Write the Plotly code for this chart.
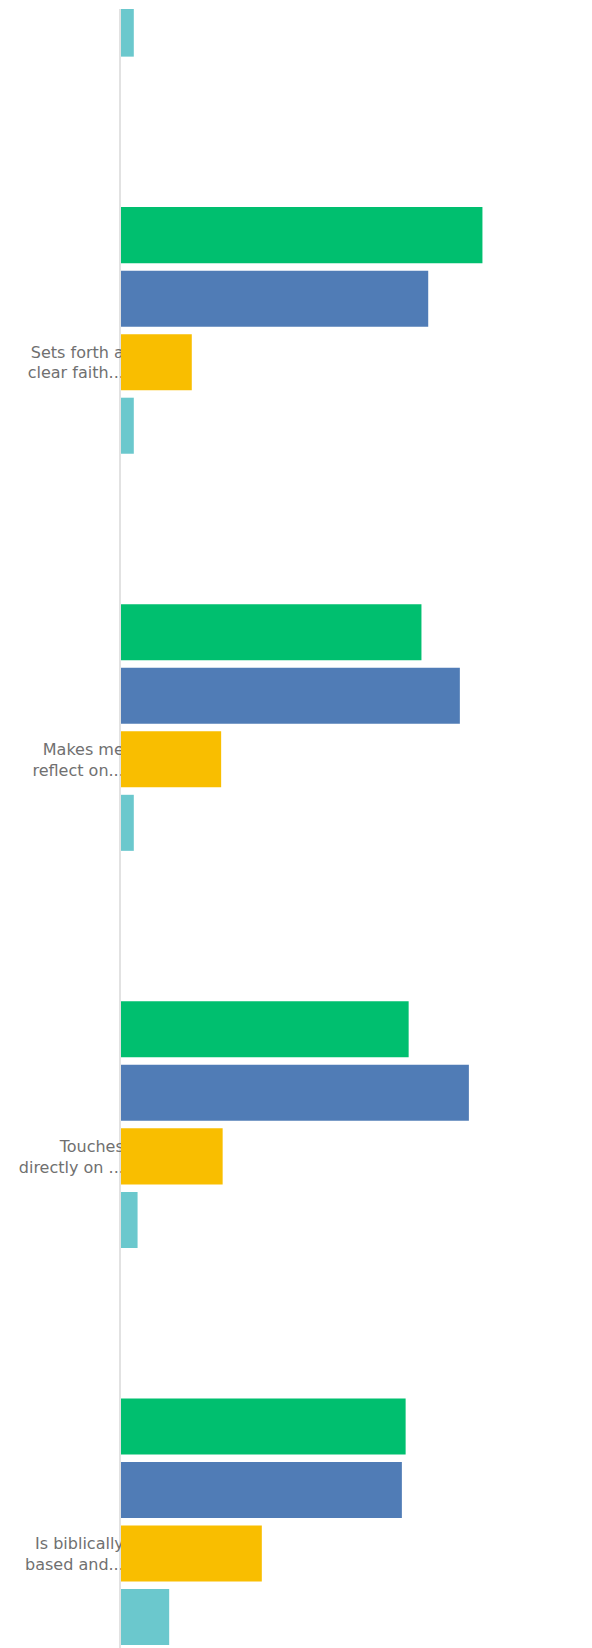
import plotly.graph_objects as go

# categories (first one is cut off at the top of the picture)
positions = [0, 1, 2, 3, 4]
labels = [
    "",
    "Sets forth a<br>clear faith...",
    "Makes me<br>reflect on...",
    "Touches<br>directly on ...",
    "Is biblically<br>based and...",
]

# percentages
strongly_agree = [None, 48.0, 39.9, 38.2, 37.8]
agree = [None, 40.8, 45.0, 46.2, 37.3]
neutral = [None, 9.4, 13.3, 13.5, 18.7]
disagree = [1.7, 1.7, 1.7, 2.2, 6.4]

series = [
    ("Strongly agree", strongly_agree, "#00BF6F"),
    ("Agree", agree, "#507CB6"),
    ("Neutral", neutral, "#F9BE00"),
    ("Disagree", disagree, "#6BC8CD"),
]

fig = go.Figure()
for name, values, color in series:
    fig.add_trace(go.Bar(
        y=positions,
        x=values,
        name=name,
        orientation="h",
        marker=dict(color=color, line=dict(width=0)),
    ))

fig.update_layout(
    width=592,
    height=1648,
    margin=dict(l=121, r=0, t=9, b=0),
    barmode="group",
    bargap=0.36,
    bargroupgap=0.118,
    showlegend=False,
    plot_bgcolor="white",
    paper_bgcolor="white",
    font=dict(family="DejaVu Sans", size=16, color="#707070"),
)
fig.update_xaxes(
    range=[0, 62.55],
    showticklabels=False,
    showgrid=False,
    zeroline=False,
)
fig.update_yaxes(
    tickvals=positions,
    ticktext=labels,
    range=[4.318, 0.1906],
    showgrid=False,
    zeroline=False,
    showline=True,
    linecolor="#e2e2e2",
    linewidth=2,
    layer="below traces",
    ticklabelshift=-32,
    ticklabelstandoff=-8,
    tickfont=dict(family="DejaVu Sans", size=16, color="#707070"),
)

fig.write_html(
    "out.html",
    config={"displayModeBar": False},
    post_script="document.body.style.margin='0';",
)
